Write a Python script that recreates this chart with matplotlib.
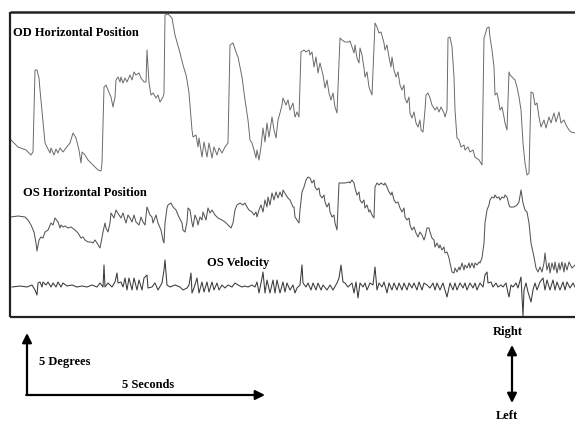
import numpy as np
import matplotlib
matplotlib.use('Agg')
import matplotlib.pyplot as plt

# трассы: (время, отклонение) в экранных единицах
od_trace = [(11,140),(18,147),(26,150),(31,155),(33,152),(35,70),(37,70),(39,78),(40,90),(45,143),
            (47,147),(50,153),(51,148),(54,155),(56,149),(58,153),(60,148),(63,152),(66,148),(70,143),
            (73,133),(76,138),(79,150),(81,163),(82,152),(85,155),(88,160),(91,163),(95,167),(98,170),
            (101,171),(102,163),(104,87),(106,85),(108,90),(111,97),(113,107),(115,97),(116,80),(118,77),
            (120,82),(121,77),(123,83),(125,78),(127,82),(130,75),(132,80),(134,72),(136,75),(139,73),
            (141,78),(144,82),(146,82),(147,50),(149,83),(151,95),(153,93),(156,98),(158,95),(160,102),
            (163,97),(164,93),(165,15),(168,14),(172,18),(175,35),(180,53),(183,65),(186,75),(187,80),
            (189,93),(192,130),(193,137),(196,135),(198,147),(199,138),(202,157),(204,142),(207,157),(209,143),
            (212,158),(214,147),(217,155),(219,148),(222,153),(225,147),(228,143),(230,45),(233,43),(236,52),
            (238,57),(242,77),(245,100),(248,120),(250,140),(252,143),(254,150),(256,158),(257,150),(259,160),
            (261,147),(263,128),(265,142),(267,123),(269,137),(272,117),(274,130),(276,138),(278,120),(280,113),
            (282,105),(283,98),(286,105),(288,100),(290,110),(293,103),(294,110),(295,117),(297,112),(299,117),
            (301,52),(304,50),(306,52),(309,50),(310,55),(312,52),(314,67),(316,57),(318,73),(320,63),
            (323,75),(325,88),(327,80),(329,93),(331,100),(333,93),(335,107),(337,113),(340,38),(342,40),
            (345,42),(349,42),(350,41),(352,47),(354,53),(355,45),(357,58),(359,63),(360,48),(362,55),
            (364,68),(365,77),(367,72),(369,87),(370,90),(372,95),(375,23),(377,27),(379,33),(381,32),
            (384,43),(385,50),(387,45),(389,57),(391,67),(392,57),(394,70),(396,77),(398,72),(400,85),
            (402,90),(404,85),(405,98),(407,103),(409,97),(410,113),(412,118),(414,112),(416,123),(418,127),
            (420,120),(421,130),(423,132),(425,110),(426,95),(428,93),(430,98),(432,105),(435,110),(437,107),
            (439,112),(441,107),(444,113),(445,117),(447,110),(448,38),(450,37),(452,47),(454,77),(455,110),
            (457,138),(459,140),(461,147),(464,145),(465,150),(468,147),(470,152),(473,150),(475,157),(479,160),
            (482,165),(484,38),(485,35),(487,28),(489,27),(490,37),(492,50),(494,67),(495,95),(497,93),
            (499,103),(500,110),(502,107),(504,117),(505,123),(507,130),(509,72),(510,75),(512,77),(515,80),
            (517,87),(519,97),(521,110),(523,143),(525,163),(527,175),(529,173),(531,92),(533,93),(535,105),
            (537,103),(539,117),(541,127),(544,120),(546,128),(549,117),(551,123),(554,113),(556,122),(559,112),
            (561,123),(564,120),(566,125),(569,130),(571,132),(575,133)]

os_trace = [(11,217),(18,216),(25,217),(28,220),(31,225),(34,232),(36,243),(37,251),(39,240),(41,237),
            (43,238),(45,232),(48,230),(51,223),(53,225),(55,218),(58,222),(60,228),(61,225),(63,227),
            (65,226),(68,228),(71,227),(75,230),(78,233),(81,238),(83,237),(85,240),(88,242),(91,242),
            (93,243),(95,240),(97,243),(100,248),(101,243),(103,232),(105,223),(106,228),(108,232),(110,223),
            (111,213),(114,218),(116,210),(119,215),(121,218),(123,213),(125,220),(126,223),(128,215),(130,218),
            (132,222),(134,215),(136,222),(139,225),(141,217),(143,222),(145,225),(147,207),(150,215),(152,217),
            (153,223),(156,215),(158,223),(161,230),(163,240),(164,243),(165,223),(167,208),(168,205),(171,203),
            (173,207),(176,210),(178,215),(182,223),(183,230),(185,232),(187,222),(188,208),(190,210),(192,223),
            (193,227),(195,215),(197,220),(198,225),(200,217),(202,220),(203,212),(206,220),(208,208),(210,213),
            (212,210),(215,215),(218,218),(222,220),(225,222),(228,225),(231,228),(233,223),(235,210),(237,205),
            (240,203),(243,205),(245,203),(247,207),(249,210),(252,212),(254,215),(256,212),(257,217),(259,210),
            (261,205),(263,212),(265,200),(267,207),(268,197),(270,205),(272,193),(274,200),(276,192),(278,198),
            (280,192),(282,197),(283,190),(286,195),(288,198),(290,200),(293,207),(294,207),(295,217),(297,220),
            (299,223),(300,210),(302,192),(304,187),(306,180),(308,177),(310,178),(312,183),(314,180),(315,187),
            (317,190),(319,188),(320,195),(322,198),(324,195),(325,202),(327,207),(329,203),(330,212),(332,217),
            (334,215),(335,223),(337,230),(339,183),(342,183),(345,183),(349,182),(350,183),(352,180),(354,183),
            (355,188),(357,195),(359,192),(360,200),(362,203),(364,200),(365,208),(367,205),(369,212),(370,210),
            (372,215),(374,218),(375,187),(377,183),(379,185),(381,183),(384,185),(385,183),(387,187),(389,192),
            (391,195),(392,192),(394,200),(396,203),(398,202),(400,208),(402,212),(404,208),(405,217),(407,220),
            (409,218),(410,225),(412,230),(414,227),(416,233),(418,237),(420,232),(422,235),(424,240),(425,237),
            (427,228),(429,228),(430,232),(432,238),(434,240),(435,247),(437,243),(439,248),(440,245),(442,250),
            (444,247),(445,253),(447,252),(449,258),(450,263),(452,272),(454,273),(455,268),(457,272),(459,267),
            (460,270),(462,263),(464,270),(465,265),(467,268),(469,263),(470,268),(472,263),(474,268),(475,263),
            (477,265),(479,262),(480,263),(482,258),(484,243),(485,223),(487,210),(489,205),(490,200),(492,197),
            (494,198),(495,195),(497,198),(499,197),(500,200),(502,197),(504,198),(505,195),(507,197),(509,205),
            (510,207),(514,207),(517,205),(519,202),(521,190),(523,203),(525,210),(527,212),(529,223),(531,243),
            (534,257),(536,268),(538,272),(540,267),(542,272),(544,263),(545,253),(547,270),(549,263),(550,273),
            (552,263),(554,270),(555,262),(557,273),(559,263),(560,270),(562,262),(564,272),(565,263),(567,270),
            (569,262),(572,268),(575,265)]

vel_trace = [(12,287),(20,286),(27,287),(32,285),(35,290),(37,295),(38,283),(40,282),(42,287),(43,282),
             (46,285),(48,282),(51,287),(53,283),(56,287),(58,282),(61,287),(63,283),(67,286),(72,285),
             (77,287),(82,286),(87,287),(92,285),(97,287),(100,283),(103,287),(104,265),(105,287),(108,283),
             (112,287),(115,282),(117,273),(118,283),(121,282),(123,287),(125,278),(127,290),(129,278),(132,290),
             (134,278),(137,290),(139,280),(142,290),(144,278),(147,275),(148,288),(152,287),(155,283),(158,290),
             (162,283),(164,270),(165,260),(167,285),(170,287),(175,285),(180,287),(183,290),(187,288),(189,285),
             (191,273),(192,293),(194,288),(197,278),(199,293),(202,282),(204,292),(207,282),(209,292),(212,282),
             (214,290),(217,283),(219,290),(222,285),(225,288),(228,285),(232,287),(235,283),(238,285),(242,287),
             (245,286),(248,287),(252,285),(255,287),(257,282),(259,293),(262,278),(263,272),(265,293),(267,280),
             (270,293),(273,280),(275,293),(277,280),(280,293),(283,282),(285,292),(287,283),(290,290),(293,285),
             (295,293),(297,288),(300,285),(302,265),(303,283),(306,287),(308,283),(311,290),(313,283),(316,290),
             (318,283),(321,290),(323,285),(327,290),(330,285),(333,290),(337,283),(339,278),(341,265),(343,282),
             (345,283),(348,287),(352,283),(354,293),(356,282),(358,298),(360,283),(363,287),(365,283),(367,290),
             (370,283),(373,285),(375,267),(377,290),(379,283),(382,287),(384,282),(387,293),(389,283),(392,290),
             (394,283),(397,290),(399,283),(402,290),(404,283),(407,290),(409,283),(412,288),(414,283),(417,290),
             (419,282),(422,290),(424,283),(427,285),(430,288),(433,283),(435,290),(437,283),(440,290),(443,283),
             (445,290),(447,297),(450,283),(453,290),(455,283),(457,290),(460,283),(463,288),(465,283),(467,290),
             (470,283),(473,288),(475,283),(477,290),(480,283),(483,287),(485,275),(487,272),(488,283),(491,282),
             (493,287),(496,283),(498,287),(501,285),(503,287),(506,283),(508,293),(509,297),(511,285),(513,287),
             (516,283),(518,288),(521,277),(522,297),(523,316),(524,290),(526,283),(528,292),(531,302),(533,290),
             (535,283),(537,290),(540,282),(543,278),(545,290),(547,280),(550,290),(553,280),(555,290),(557,282),
             (560,290),(563,282),(565,290),(567,282),(570,288),(573,283),(575,287)]

labels = ['OD Horizontal Position', 'OS Horizontal Position', 'OS Velocity']

fig = plt.figure(figsize=(5.75, 4.21), dpi=100)
ax = fig.add_axes([0, 0, 1, 1])
ax.set_xlim(0, 575)
ax.set_ylim(421, 0)
ax.axis('off')

font = dict(family='Liberation Serif', fontweight='bold', fontsize=9)

od = np.array(od_trace).T
os_ = np.array(os_trace).T
vel = np.array(vel_trace).T
ax.plot(od[0], od[1], color='#6a6a6a', lw=0.7)
ax.plot(os_[0], os_[1], color='#555555', lw=0.75)
ax.plot(vel[0], vel[1], color='#3a3a3a', lw=0.75)

# рамка
ax.plot([10, 10], [12, 317], color='#222222', lw=1.6, solid_capstyle='butt')
ax.plot([10, 580], [12, 12], color='#222222', lw=1.8, solid_capstyle='butt')
ax.plot([10, 580], [317, 317], color='#222222', lw=1.6, solid_capstyle='butt')

ax.text(13, 33, labels[0], va='center', ha='left', **font)
ax.text(23, 193, labels[1], va='center', ha='left', **font)
ax.text(207, 263, labels[2], va='center', ha='left', **font)

# шкалы
arr = dict(arrowstyle='-|>', color='black', lw=1.6, mutation_scale=14, shrinkA=0, shrinkB=0)
ax.annotate('', xy=(27, 333), xytext=(27, 395), arrowprops=arr)
ax.annotate('', xy=(265, 395), xytext=(26.2, 395), arrowprops=arr)
ax.text(39, 362, '5 Degrees', va='center', ha='left', **font)
ax.text(122, 385, '5 Seconds', va='center', ha='left', **font)

arr2 = dict(arrowstyle='<|-|>', color='black', lw=1.6, mutation_scale=14, shrinkA=0, shrinkB=0)
ax.annotate('', xy=(512, 345), xytext=(512, 403), arrowprops=arr2)
ax.text(508, 332, 'Right', va='center', ha='center', **font)
ax.text(507, 416, 'Left', va='center', ha='center', **font)

fig.savefig('out.png', dpi=100)
